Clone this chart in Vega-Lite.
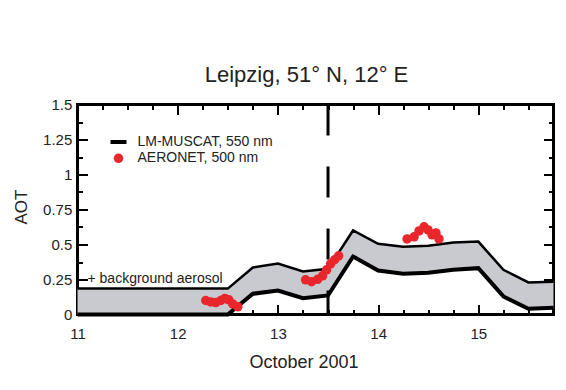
{
  "$schema": "https://vega.github.io/schema/vega-lite/v6.json",
  "width": 476,
  "height": 210,
  "autosize": {"type": "none"},
  "padding": {"left": 77.5, "top": 104.5, "right": 12.5, "bottom": 75.5},
  "background": "white",
  "title": {
    "text": "Leipzig, 51° N, 12° E",
    "font": "Liberation Sans",
    "fontSize": 22,
    "fontWeight": "normal",
    "color": "#222222",
    "baseline": "alphabetic",
    "anchor": "middle",
    "offset": -6,
    "dx": -9
  },
  "config": {
    "view": {"stroke": "black", "strokeWidth": 3},
    "axis": {
      "domain": false,
      "grid": false,
      "tickColor": "black",
      "tickWidth": 2,
      "labelFont": "Liberation Sans",
      "labelFontSize": 15,
      "labelColor": "#222222",
      "titleFont": "Liberation Sans",
      "titleFontWeight": "normal",
      "titleColor": "#222222",
      "labelOverlap": false,
      "labelFlush": false
    },
    "legend": {
      "orient": "none",
      "legendX": 33,
      "legendY": 29.5,
      "padding": 0,
      "labelFont": "Liberation Sans",
      "labelFontSize": 14,
      "labelColor": "#222222",
      "labelOffset": 11,
      "rowPadding": 2.3,
      "symbolStrokeWidth": 0,
      "labelLimit": 300
    }
  },
  "datasets": {
    "model": [
      {"day": 11.0, "lower": 0, "upper": 0.185},
      {"day": 11.25, "lower": 0, "upper": 0.185},
      {"day": 11.5, "lower": 0, "upper": 0.185},
      {"day": 11.75, "lower": 0, "upper": 0.185},
      {"day": 12.0, "lower": 0, "upper": 0.185},
      {"day": 12.25, "lower": 0, "upper": 0.185},
      {"day": 12.5, "lower": 0, "upper": 0.185},
      {"day": 12.75, "lower": 0.148, "upper": 0.336},
      {"day": 13.0, "lower": 0.171, "upper": 0.364},
      {"day": 13.25, "lower": 0.117, "upper": 0.307},
      {"day": 13.5, "lower": 0.136, "upper": 0.326},
      {"day": 13.75, "lower": 0.414, "upper": 0.6},
      {"day": 14.0, "lower": 0.314, "upper": 0.505},
      {"day": 14.25, "lower": 0.291, "upper": 0.484},
      {"day": 14.5, "lower": 0.298, "upper": 0.491},
      {"day": 14.75, "lower": 0.319, "upper": 0.514},
      {"day": 15.0, "lower": 0.331, "upper": 0.521},
      {"day": 15.25, "lower": 0.129, "upper": 0.319},
      {"day": 15.5, "lower": 0.041, "upper": 0.229},
      {"day": 15.75, "lower": 0.048, "upper": 0.234}
    ],
    "aeronet": [
      {"day": 12.28, "aot": 0.1, "source": "AERONET, 500 nm"},
      {"day": 12.33, "aot": 0.09, "source": "AERONET, 500 nm"},
      {"day": 12.38, "aot": 0.085, "source": "AERONET, 500 nm"},
      {"day": 12.43, "aot": 0.1, "source": "AERONET, 500 nm"},
      {"day": 12.47, "aot": 0.115, "source": "AERONET, 500 nm"},
      {"day": 12.51, "aot": 0.105, "source": "AERONET, 500 nm"},
      {"day": 12.55, "aot": 0.075, "source": "AERONET, 500 nm"},
      {"day": 12.6, "aot": 0.055, "source": "AERONET, 500 nm"},
      {"day": 13.276, "aot": 0.248, "source": "AERONET, 500 nm"},
      {"day": 13.336, "aot": 0.234, "source": "AERONET, 500 nm"},
      {"day": 13.396, "aot": 0.251, "source": "AERONET, 500 nm"},
      {"day": 13.446, "aot": 0.276, "source": "AERONET, 500 nm"},
      {"day": 13.486, "aot": 0.319, "source": "AERONET, 500 nm"},
      {"day": 13.526, "aot": 0.362, "source": "AERONET, 500 nm"},
      {"day": 13.566, "aot": 0.391, "source": "AERONET, 500 nm"},
      {"day": 13.606, "aot": 0.419, "source": "AERONET, 500 nm"},
      {"day": 14.289, "aot": 0.54, "source": "AERONET, 500 nm"},
      {"day": 14.359, "aot": 0.555, "source": "AERONET, 500 nm"},
      {"day": 14.408, "aot": 0.597, "source": "AERONET, 500 nm"},
      {"day": 14.458, "aot": 0.626, "source": "AERONET, 500 nm"},
      {"day": 14.498, "aot": 0.604, "source": "AERONET, 500 nm"},
      {"day": 14.538, "aot": 0.569, "source": "AERONET, 500 nm"},
      {"day": 14.577, "aot": 0.583, "source": "AERONET, 500 nm"},
      {"day": 14.607, "aot": 0.54, "source": "AERONET, 500 nm"}
    ]
  },
  "layer": [
    {
      "data": {"name": "model"},
      "mark": {"type": "area", "color": "#c8cad0", "opacity": 1},
      "encoding": {
        "x": {
          "field": "day",
          "type": "quantitative",
          "scale": {"domain": [11, 15.75], "nice": false, "zero": false},
          "axis": {
            "orient": "bottom",
            "values": [11, 11.25, 11.5, 11.75, 12, 12.25, 12.5, 12.75, 13, 13.25, 13.5, 13.75, 14, 14.25, 14.5, 14.75, 15, 15.25, 15.5, 15.75],
            "labelExpr": "datum.value % 1 === 0 ? '' + datum.value : ''",
            "tickSize": {"condition": {"test": "datum.value % 1 === 0", "value": -10}, "value": -5},
            "labelPadding": 22,
            "labelBaseline": "top",
            "title": "October 2001",
            "titleFontSize": 18,
            "titleX": 226,
            "titleY": 53,
            "titleBaseline": "alphabetic",
            "titleAlign": "center"
          }
        },
        "y": {
          "field": "lower",
          "type": "quantitative",
          "scale": {"domain": [0, 1.5], "nice": false, "zero": false},
          "axis": {
            "orient": "left",
            "values": [0, 0.125, 0.25, 0.375, 0.5, 0.625, 0.75, 0.875, 1, 1.125, 1.25, 1.375, 1.5],
            "labelExpr": "datum.value % 0.25 === 0 ? '' + datum.value : ''",
            "tickSize": {"condition": {"test": "datum.value % 0.25 === 0", "value": -10}, "value": -5},
            "labelPadding": 15.7,
            "title": "AOT",
            "titleFontSize": 17,
            "titleAngle": -90,
            "titleX": -50.8,
            "titleY": 102,
            "titleBaseline": "alphabetic",
            "titleAlign": "center"
          }
        },
        "y2": {"field": "upper"}
      }
    },
    {
      "data": {"name": "model"},
      "mark": {"type": "line", "color": "black", "strokeWidth": 2.5},
      "encoding": {
        "x": {
          "field": "day",
          "type": "quantitative",
          "axis": {
            "orient": "top",
            "values": [11, 11.25, 11.5, 11.75, 12, 12.25, 12.5, 12.75, 13, 13.25, 13.5, 13.75, 14, 14.25, 14.5, 14.75, 15, 15.25, 15.5, 15.75],
            "labels": false,
            "title": null,
            "tickSize": {"condition": {"test": "datum.value % 1 === 0", "value": -10}, "value": -5}
          }
        },
        "y": {
          "field": "upper",
          "type": "quantitative",
          "axis": {
            "orient": "right",
            "values": [0, 0.125, 0.25, 0.375, 0.5, 0.625, 0.75, 0.875, 1, 1.125, 1.25, 1.375, 1.5],
            "labels": false,
            "title": null,
            "tickSize": {"condition": {"test": "datum.value % 0.25 === 0", "value": -10}, "value": -5}
          }
        }
      }
    },
    {
      "data": {"name": "model"},
      "mark": {"type": "line", "color": "black", "strokeWidth": 4},
      "encoding": {
        "x": {"field": "day", "type": "quantitative", "axis": null},
        "y": {"field": "lower", "type": "quantitative", "axis": null}
      }
    },
    {
      "data": {"values": [{}]},
      "mark": {"type": "rule", "color": "black", "strokeWidth": 3, "strokeDash": [31, 31]},
      "encoding": {
        "x": {"datum": 13.5, "type": "quantitative", "axis": null},
        "y": {"datum": 1.5, "type": "quantitative", "axis": null},
        "y2": {"datum": 0}
      }
    },
    {
      "data": {"name": "aeronet"},
      "mark": {"type": "point", "filled": true, "opacity": 1, "strokeWidth": 0},
      "encoding": {
        "x": {"field": "day", "type": "quantitative", "axis": null},
        "y": {"field": "aot", "type": "quantitative", "axis": null},
        "color": {
          "field": "source",
          "type": "nominal",
          "scale": {"domain": ["LM-MUSCAT, 550 nm", "AERONET, 500 nm"], "range": ["#000000", "#e9262c"]},
          "legend": {"title": null}
        },
        "shape": {
          "field": "source",
          "type": "nominal",
          "scale": {"domain": ["LM-MUSCAT, 550 nm", "AERONET, 500 nm"], "range": ["M-1,-0.25L1,-0.25L1,0.25L-1,0.25Z", "circle"]},
          "legend": {"title": null}
        },
        "size": {
          "field": "source",
          "type": "nominal",
          "scale": {"domain": ["LM-MUSCAT, 550 nm", "AERONET, 500 nm"], "range": [256, 90]},
          "legend": {"title": null}
        }
      }
    },
    {
      "data": {"values": [{}]},
      "mark": {"type": "text", "font": "Liberation Sans", "fontSize": 14, "color": "#222222", "align": "left", "baseline": "alphabetic"},
      "encoding": {
        "x": {"datum": 11.1, "type": "quantitative", "axis": null},
        "y": {"datum": 0.224, "type": "quantitative", "axis": null},
        "text": {"value": "+ background aerosol"}
      }
    }
  ]
}
